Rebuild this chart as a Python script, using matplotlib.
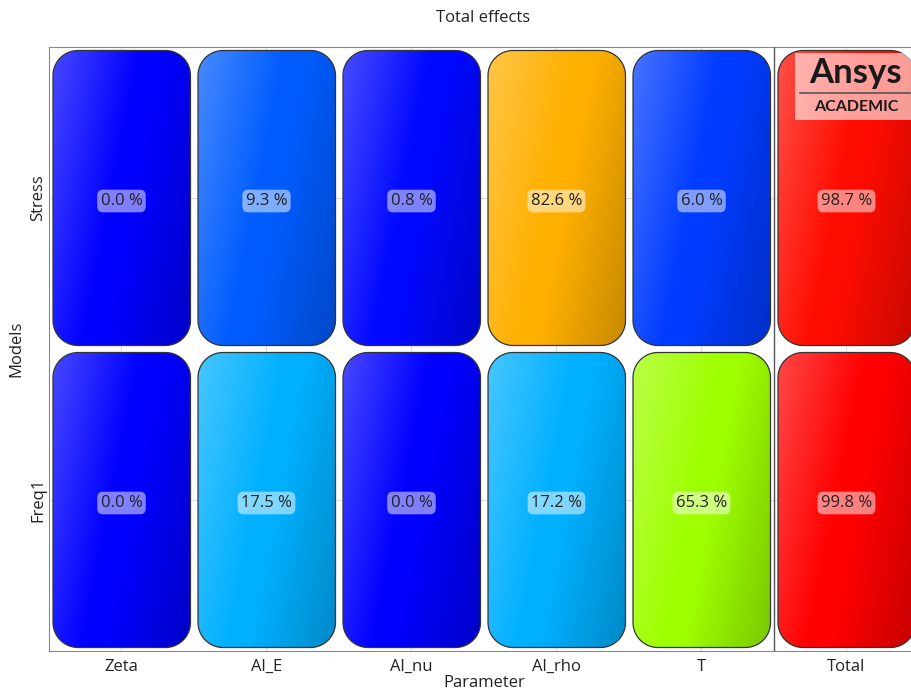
import numpy as np
import matplotlib
matplotlib.use("Agg")
import matplotlib.pyplot as plt
from matplotlib.colors import LinearSegmentedColormap
from matplotlib.patches import Polygon

plt.rcParams["font.family"] = ["Open Sans", "DejaVu Sans"]

# Sensitivity data: total effect (%) of each parameter on each model output
parameters = ["Zeta", "Al_E", "Al_nu", "Al_rho", "T", "Total"]
models = ["Stress", "Freq1"]
stress_effects = [0.0, 9.3, 0.8, 82.6, 6.0, 98.7]
freq1_effects = [0.0, 17.5, 0.0, 17.2, 65.3, 99.8]

cmap = LinearSegmentedColormap.from_list(
    "effects", ["#0000ff", "#00ffff", "#00ff00", "#ffff00", "#ff0000"])

CELL_W, CELL_H = 145.0, 302.0   # cell size in axis units (pixel-like)
PAD = 3.5
RADIUS = 25.0

fig = plt.figure(figsize=(9.12, 6.93), dpi=100)
ax = fig.add_axes([49 / 912, 1 - 651 / 693, CELL_W * 6 / 912, 604 / 693])
ax.set_xlim(0, CELL_W * len(parameters))
ax.set_ylim(0, CELL_H * len(models))


def rounded_rect(x, y, w, h, r, n=16):
    """Vertices of a rounded rectangle as a plain polygon."""
    pts = []
    corners = [(x + w - r, y + r, -90), (x + w - r, y + h - r, 0),
               (x + r, y + h - r, 90), (x + r, y + r, 180)]
    for cx, cy, a0 in corners:
        t = np.radians(np.linspace(a0, a0 + 90, n))
        pts.extend(zip(cx + r * np.cos(t), cy + r * np.sin(t)))
    return np.array(pts)


def shaded_rgb(base):
    """Diagonal sheen: lighter toward the top-left, darker toward the bottom-right."""
    nx, ny = 120, 240
    u = np.linspace(0, 1, nx)[None, :]
    v = np.linspace(0, 1, ny)[:, None]
    s = 0.7 * u + 0.3 * v
    light = np.clip((0.45 - s) / 0.45, 0, 1) * 0.28
    dark = np.clip((s - 0.55) / 0.45, 0, 1) * 0.22
    rgb = np.array(base[:3])[None, None, :]
    img = rgb + (1 - rgb) * light[..., None]
    img = img * (1 - dark[..., None])
    return np.clip(img, 0, 1)


rows = {"Stress": stress_effects, "Freq1": freq1_effects}
for r, model in enumerate(models):
    values = rows[model]
    y0 = CELL_H * (len(models) - 1 - r)
    for c, val in enumerate(values):
        x0 = CELL_W * c
        bx, by = x0 + PAD + 0.5, y0 + PAD
        bw, bh = CELL_W - 2 * PAD - 0.5, CELL_H - 2 * PAD
        color = cmap(val / 100.0)
        patch = Polygon(rounded_rect(bx, by, bw, bh, RADIUS), closed=True,
                        facecolor="none", edgecolor="#333333", linewidth=0.9, zorder=3)
        ax.add_patch(patch)
        im = ax.imshow(shaded_rgb(color), extent=(bx, bx + bw, by, by + bh),
                       origin="upper", aspect="auto", zorder=2, interpolation="bilinear")
        im.set_clip_path(patch)
        ax.text(x0 + CELL_W / 2, y0 + CELL_H / 2 - 3, f"{val:.1f} %", ha="center",
                va="center", fontsize=12, color="#222222", zorder=5,
                bbox=dict(boxstyle="round,pad=0.2,rounding_size=0.35", facecolor="white",
                          alpha=0.5, edgecolor="none"))

# Separator before the "Total" column
ax.axvline(CELL_W * (len(parameters) - 1), color="#555555", linewidth=1.0, zorder=4)

ax.set_xticks([CELL_W * (i + 0.5) for i in range(len(parameters))])
ax.set_xticklabels(parameters, fontsize=12, color="#222222")
ax.set_yticks([CELL_H * (len(models) - 1 - i + 0.5) for i in range(len(models))])
ax.set_yticklabels(models, fontsize=12, color="#222222", rotation=90, va="center")
ax.tick_params(axis="x", length=0, pad=6)
ax.tick_params(axis="y", length=0, pad=2)
ax.grid(True, color="#dddddd", linewidth=0.8, zorder=0)
ax.set_axisbelow(True)
for side in ["left", "bottom", "top"]:
    ax.spines[side].set_color("#888888")
ax.spines["right"].set_visible(False)

ax.set_xlabel("Parameter", fontsize=12, color="#222222", labelpad=0)
ax.set_ylabel("Models", fontsize=12, color="#222222", labelpad=4)
fig.text(483 / 912, 1 - 18 / 693, "Total effects", ha="center", va="center",
         fontsize=12, color="#222222")

# Watermark badge in the top-right corner
badge = fig.add_axes([795 / 912, 1 - 120 / 693, 117 / 912, 67 / 693])
badge.set_xlim(0, 1)
badge.set_ylim(0, 1)
badge.axis("off")
badge.add_patch(plt.Rectangle((0, 0), 1, 1, facecolor="white", alpha=0.6,
                              edgecolor="none", transform=badge.transAxes))
badge.text(0.52, 0.7, "Ansys", ha="center", va="center", fontsize=25,
           fontweight="bold", color="#1a1a1a", family=["Lato", "DejaVu Sans"])
badge.plot([0.04, 0.98], [0.4, 0.4], color="#555555", linewidth=1.2)
badge.text(0.52, 0.2, "ACADEMIC", ha="center", va="center", fontsize=11.5,
           fontweight="bold", color="#1a1a1a", family=["Lato", "DejaVu Sans"])

fig.savefig("out.png", dpi=100)
